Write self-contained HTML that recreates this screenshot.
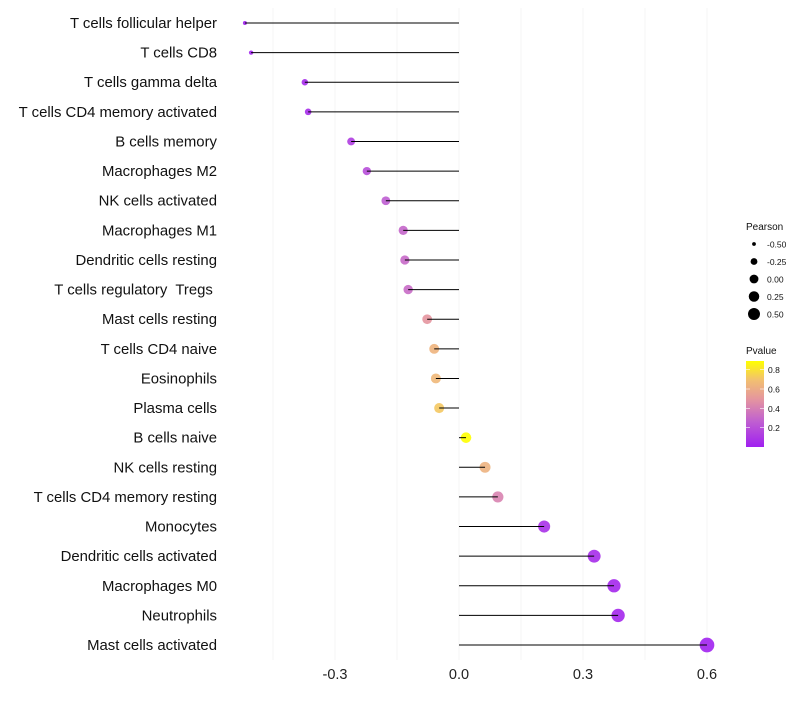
<!DOCTYPE html>
<html><head><meta charset="utf-8"><style>
body{margin:0;background:#fff;font-family:"Liberation Sans",sans-serif}
text{white-space:pre}
</style></head><body>
<svg id="chart" width="800" height="700" xmlns="http://www.w3.org/2000/svg">
<defs><linearGradient id="pg" x1="0" y1="1" x2="0" y2="0">
<stop offset="0" stop-color="#A020F0"/><stop offset="0.3" stop-color="#C060D0"/><stop offset="0.55" stop-color="#E494A0"/><stop offset="0.78" stop-color="#F2C070"/><stop offset="1" stop-color="#FFFF00"/></linearGradient></defs>
<g id="grid"></g><g id="marks"></g><g id="labels"></g><g id="legend"></g>
</svg>
<script>
const categories=["T cells follicular helper","T cells CD8","T cells gamma delta","T cells CD4 memory activated","B cells memory","Macrophages M2","NK cells activated","Macrophages M1","Dendritic cells resting","T cells regulatory  Tregs ","Mast cells resting","T cells CD4 naive","Eosinophils","Plasma cells","B cells naive","NK cells resting","T cells CD4 memory resting","Monocytes","Dendritic cells activated","Macrophages M0","Neutrophils","Mast cells activated"];
const pearson=[-0.518,-0.503,-0.373,-0.365,-0.261,-0.223,-0.177,-0.135,-0.131,-0.123,-0.077,-0.060,-0.056,-0.048,0.017,0.063,0.094,0.206,0.327,0.375,0.385,0.600];
const pvalue=[0.02,0.03,0.05,0.06,0.13,0.2,0.26,0.3,0.31,0.32,0.5,0.64,0.66,0.72,0.89,0.63,0.42,0.08,0.06,0.04,0.04,0.02];
const xTicks=[-0.3,0,0.3,0.6];
const xTickLabels=["-0.3","0.0","0.3","0.6"];
const NS="http://www.w3.org/2000/svg";
const x=v=>459+v*413.3;
const y=i=>23+i*29.62;
const rad=v=>Math.sqrt(4+(v+0.52)/1.12*(54-4));
const stops=[[0,[160,32,240]],[0.3,[192,96,208]],[0.55,[228,148,160]],[0.78,[242,192,112]],[1,[255,255,0]]];
function col(p){let t=Math.max(0,Math.min(1,(p-0.01)/0.88));for(let k=1;k<stops.length;k++){if(t<=stops[k][0]){const a=stops[k-1],b=stops[k];const f=(t-a[0])/(b[0]-a[0]);return "rgb("+a[1].map((c,j)=>Math.round(c+(b[1][j]-c)*f)).join(",")+")";}}return "rgb(255,255,0)";}
function mk(tag,at,parent){const e=document.createElementNS(NS,tag);for(const k in at)e.setAttribute(k,at[k]);parent.appendChild(e);return e;}
const grid=document.getElementById('grid'),marks=document.getElementById('marks'),labels=document.getElementById('labels'),legend=document.getElementById('legend');
[-0.45,-0.3,-0.15,0,0.15,0.3,0.45,0.6].forEach(v=>{const l=mk('line',{x1:x(v),x2:x(v),y1:8,y2:660,stroke:'#f4f4f4','stroke-width':1},grid);

});
xTicks.forEach((v,i)=>{const t=mk('text',{x:x(v),y:679,'text-anchor':'middle','font-size':14.5,fill:'#222'},labels);t.textContent=xTickLabels[i];

});
categories.forEach((c,i)=>{
const t=mk('text',{x:217,y:y(i)+5,'text-anchor':'end','font-size':14.9,fill:'#111'},labels);t.textContent=c;


const d=mk('circle',{cx:x(pearson[i]),cy:y(i),r:rad(pearson[i]),fill:col(pvalue[i]),'fill-opacity':0.9},marks);


const l=mk('line',{x1:x(0),x2:x(pearson[i]),y1:y(i),y2:y(i),stroke:'#000','stroke-width':1},marks);

});
let t=mk('text',{x:746,y:230,'font-size':10,fill:'#111'},legend);t.textContent='Pearson';


[-0.5,-0.25,0,0.25,0.5].forEach((v,i)=>{const cy=244+i*17.5;
const c=mk('circle',{cx:754,cy:cy,r:rad(v)*0.85,fill:'#000'},legend);


const s=mk('text',{x:767,y:cy+3.5,'font-size':8.5,fill:'#111'},legend);s.textContent=v.toFixed(2);

});
t=mk('text',{x:746,y:354,'font-size':10,fill:'#111'},legend);t.textContent='Pvalue';


const bar=mk('rect',{x:746,y:361,width:18,height:86,fill:'url(#pg)'},legend);


[0.8,0.6,0.4,0.2].forEach(v=>{const yy=446-(v-0.01)/0.88*85;
const s=mk('text',{x:768,y:yy+3.5,'font-size':8.5,fill:'#111'},legend);s.textContent=v.toFixed(1);


mk('line',{x1:746,x2:750,y1:yy,y2:yy,stroke:'#fff','stroke-width':0.6},legend);
mk('line',{x1:760,x2:764,y1:yy,y2:yy,stroke:'#fff','stroke-width':0.6},legend);});
</script>
</body></html>
